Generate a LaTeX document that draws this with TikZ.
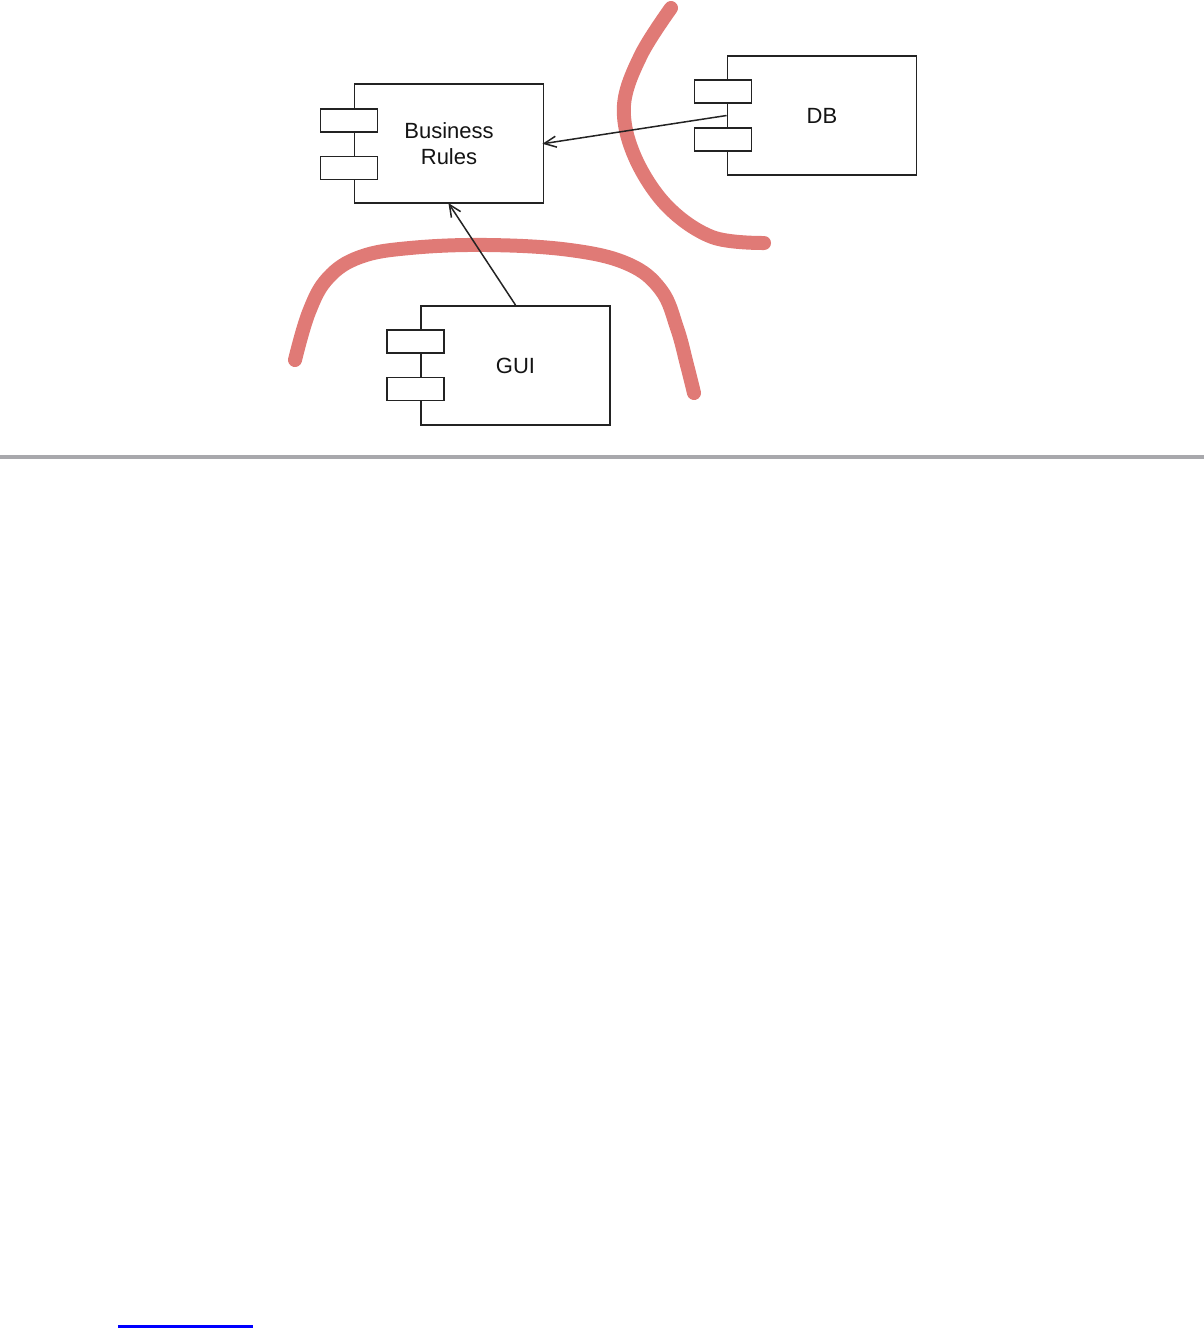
\documentclass[tikz,border=0pt]{standalone}
\usepackage{fontspec}
\setmainfont{Liberation Sans}
\usetikzlibrary{arrows.meta}
\definecolor{boxline}{RGB}{35,35,35}
\definecolor{redline}{RGB}{224,122,118}
\definecolor{ruleline}{RGB}{168,168,172}
\definecolor{txt}{RGB}{20,20,20}
\begin{document}
\begin{tikzpicture}[x=1pt,y=-1pt,
  comp/.style={draw=boxline,line width=1.9pt,fill=white,minimum width=189pt,minimum height=119pt,inner sep=0pt,font=\fontsize{22}{26}\selectfont,text=txt,align=center},
  port/.style={draw=boxline,line width=1.9pt,fill=white,minimum width=57pt,minimum height=23pt,inner sep=0pt},
  conn/.style={draw=boxline,line width=1.5pt,-{Straight Barb[length=12pt,width=11pt,line width=1.5pt]}},
  boundary/.style={draw=redline,line width=14pt,line cap=round,line join=round}]
\useasboundingbox (0,0) rectangle (1204,1328);
% red boundaries
\draw[boundary] plot[smooth,tension=0.6] coordinates {(671,8) (641,55) (624,105) (634,155) (666,205) (712,237) (764,243)};
\draw[boundary] plot[smooth,tension=0.65] coordinates {(295,360) (309,312) (328,278) (360,257) (410,248) (487,245) (570,250) (628,264) (661,290) (677,328) (687,365) (694,393)};
% components
\node[comp] (br) at (449,143.5) {Business\\Rules};
\node[port] (brp1) at (349,120.3) {};
\node[port] (brp2) at (349,168) {};
\node[comp] (db) at (822,115.5) {DB};
\node[port] (dbp1) at (723,91.5) {};
\node[port] (dbp2) at (723,139.5) {};
\node[comp] (gui) at (515.5,365.5) {GUI};
\node[port] (guip1) at (415.5,341.7) {};
\node[port] (guip2) at (415.5,389) {};
% connectors
\draw[conn,shorten >=-2pt] (db.west) -- (br.east);
\draw[conn,shorten >=-1pt] (gui.north) -- (br.south);
% page rule and link
\fill[ruleline] (0,455) rectangle (1204,459);
\fill[blue] (118,1325) rectangle (253,1328);
\end{tikzpicture}
\end{document}
